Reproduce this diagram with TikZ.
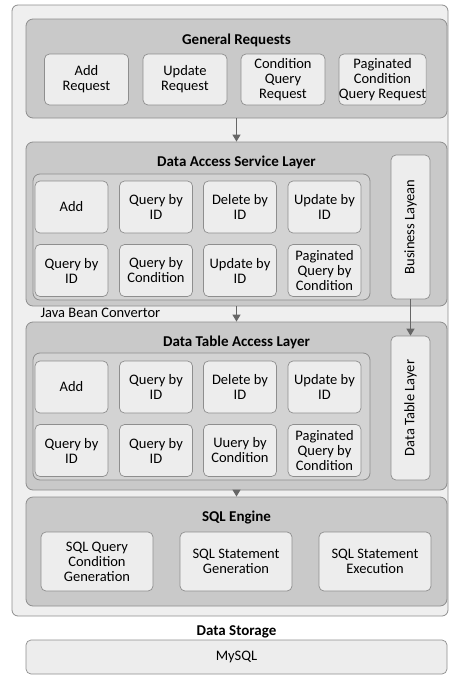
\documentclass[tikz,border=0pt]{standalone}
\usepackage{fontspec}
\setmainfont{Carlito}
\usetikzlibrary{arrows.meta,positioning}

\definecolor{framefill}{HTML}{EFEFEF}
\definecolor{layerfill}{HTML}{C9C9C9}
\definecolor{innerfill}{HTML}{D3D3D3}
\definecolor{cellfill}{HTML}{EDEDED}
\definecolor{edgegray}{HTML}{8E8E8E}
\definecolor{arrowgray}{HTML}{666666}

\tikzset{
  frame/.style={draw=edgegray, fill=framefill, rounded corners=6pt, line width=0.8pt},
  layer/.style={draw=edgegray, fill=layerfill, rounded corners=7pt, line width=0.8pt, minimum width=421pt},
  inner/.style={draw=edgegray, fill=innerfill, rounded corners=7pt, line width=0.8pt, minimum width=337pt},
  cell/.style={draw=edgegray, fill=cellfill, rounded corners=5pt, line width=0.7pt, align=center,
    font=\fontsize{14.5}{15}\selectfont, inner sep=0pt, minimum width=73pt, minimum height=52pt},
  title/.style={font=\fontsize{15}{16}\selectfont\bfseries},
  side/.style={cell, rotate=90, minimum width=144pt, minimum height=39pt},
  flow/.style={draw=arrowgray, line width=1.3pt, -{Triangle[width=8pt,length=7pt]}}
}

\begin{document}
\begin{tikzpicture}[x=1pt, y=-1pt]
  \useasboundingbox (0,0) rectangle (450,675);
  \node (frame) [frame, minimum width=436pt, minimum height=611pt] at (230,310.5) {};

  % general requests
  \node (gr) [layer, minimum height=99pt] at (236.5,68.5) {};
  \node (grtitle) [title] at (236.5,40) {General Requests};
  \node (req1) [cell, minimum width=84pt, minimum height=51pt] at (86.5,79.5) {Add\\Request};
  \node (req2) [cell, minimum width=84pt, minimum height=51pt] at (185,79.5) {Update\\Request};
  \node (req3) [cell, minimum width=84pt, minimum height=51pt] at (283,79.5) {Condition\\Query\\Request};
  \node (req4) [cell, minimum width=84pt, minimum height=51pt] at (382.5,79.5) {Paginated\\Condition\\Query Request};

  % data access service layer
  \node (dasl) [layer, minimum height=164pt] at (236.5,224) {};
  \node (dasltitle) [title] at (236.5,162) {Data Access Service Layer};
  \node (daslin) [inner, minimum height=126pt] at (201.5,237) {};
  \node (s1) [cell] at (71.5,207) {Add};
  \node (s2) [cell] at (156,207) {Query by\\ID};
  \node (s3) [cell] at (240,207) {Delete by\\ID};
  \node (s4) [cell] at (324.5,207) {Update by\\ID};
  \node (s5) [cell] at (71.5,270.5) {Query by\\ID};
  \node (s6) [cell] at (156,270.5) {Query by\\Condition};
  \node (s7) [cell] at (240,270.5) {Update by\\ID};
  \node (s8) [cell] at (324.5,270.5) {Paginated\\Query by\\Condition};
  \node (biz) [side] at (410.5,227) {Business Layean};

  \node (bean) [anchor=west, font=\fontsize{14.5}{15}\selectfont] at (37,313) {Java Bean Convertor};

  % data table access layer
  \node (dtal) [layer, minimum height=168pt] at (236.5,406) {};
  \node (dtaltitle) [title] at (236.5,342) {Data Table Access Layer};
  \node (dtalin) [inner, minimum height=127pt] at (201.5,416.5) {};
  \node (t1) [cell] at (71.5,387) {Add};
  \node (t2) [cell] at (156,387) {Query by\\ID};
  \node (t3) [cell] at (240,387) {Delete by\\ID};
  \node (t4) [cell] at (324.5,387) {Update by\\ID};
  \node (t5) [cell] at (71.5,450.5) {Query by\\ID};
  \node (t6) [cell] at (156,450.5) {Query by\\ID};
  \node (t7) [cell] at (240,450.5) {Uuery by\\Condition};
  \node (t8) [cell] at (324.5,450.5) {Paginated\\Query by\\Condition};
  \node (tbl) [side] at (410.5,408) {Data Table Layer};

  % sql engine
  \node (sql) [layer, minimum height=109pt] at (236.5,551.5) {};
  \node (sqltitle) [title] at (236.5,518) {SQL Engine};
  \node (q1) [cell, minimum width=112pt, minimum height=59pt] at (97,561.5) {SQL Query\\Condition\\Generation};
  \node (q2) [cell, minimum width=112pt, minimum height=59pt] at (236,561.5) {SQL Statement\\Generation};
  \node (q3) [cell, minimum width=112pt, minimum height=59pt] at (375,561.5) {SQL Statement\\Execution};

  % storage
  \node (storetitle) [title] at (236.5,632) {Data Storage};
  \node (mysql) [cell, minimum width=421pt, minimum height=34pt] at (236.5,657) {MySQL};

  \draw[flow] (gr.south) -- (dasl.north);
  \draw[flow] (dasl.south) -- (dtal.north);
  \draw[flow] (biz.west) -- (tbl.east);
  \draw[flow] (dtal.south) -- (sql.north);
\end{tikzpicture}
\end{document}
